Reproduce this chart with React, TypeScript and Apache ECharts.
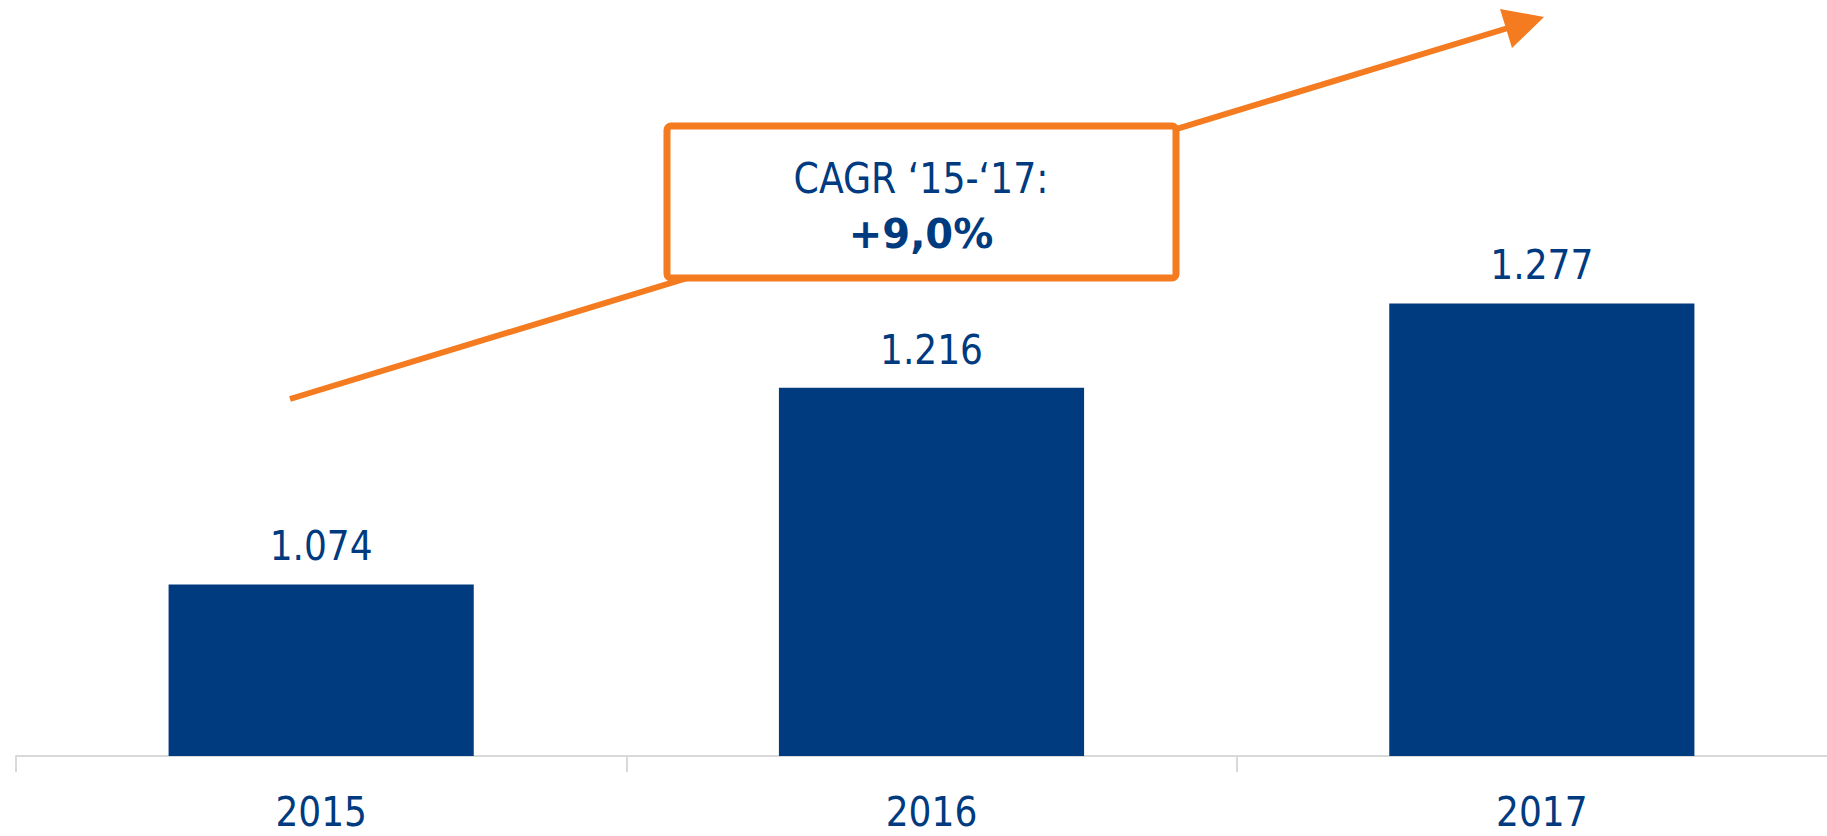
import React, { useEffect, useRef } from "react";
import * as echarts from "echarts";

const categories = ["2015", "2016", "2017"];
const revenue = [1074, 1216, 1277];
const cagrTitle = "CAGR ‘15-‘17:";
const cagrValue = "+9,0%";

const BLUE = "#003A7F";
const ORANGE = "#F47B20";
const FONT = "'DejaVu Sans Condensed', 'DejaVu Sans', sans-serif";

function fmt(v: number): string {
  const s = String(Math.round(v));
  return s.replace(/\B(?=(\d{3})+(?!\d))/g, ".");
}

export default function App() {
  const ref = useRef<HTMLDivElement>(null);
  useEffect(() => {
    if (!ref.current) return;
    const chart = echarts.init(ref.current, null, { renderer: "svg" });
    chart.setOption({
      animation: false,
      backgroundColor: "#ffffff",
      grid: {
        left: 16,
        width: 1831,
        top: 64,
        height: 692,
        containLabel: false,
        outerBoundsMode: "none",
      },
      xAxis: {
        type: "category",
        data: categories,
        boundaryGap: true,
        axisLine: { show: true, lineStyle: { color: "#D9D9D9", width: 2 } },
        axisTick: { show: true, length: 16, lineStyle: { color: "#D9D9D9", width: 2 } },
        axisLabel: {
          color: BLUE,
          fontSize: 40,
          lineHeight: 34,
          fontFamily: FONT,
          margin: 39,
        },
      },
      yAxis: {
        type: "value",
        min: 950,
        max: 1450,
        show: false,
        splitLine: { show: false },
      },
      series: [
        {
          type: "bar",
          data: revenue,
          barWidth: "50%",
          itemStyle: { color: BLUE },
          label: {
            show: true,
            position: "top",
            distance: 18,
            color: BLUE,
            fontSize: 40,
            fontFamily: FONT,
            formatter: (p: any) => fmt(p.value),
          },
        },
      ],
      graphic: [
        {
          type: "line",
          z: 10,
          shape: { x1: 290, y1: 399, x2: 1508, y2: 28 },
          style: { stroke: ORANGE, lineWidth: 6 },
        },
        {
          type: "polygon",
          z: 11,
          shape: { points: [[1500, 9], [1544, 17], [1512, 48]] },
          style: { fill: ORANGE },
        },
        {
          type: "rect",
          z: 12,
          shape: { x: 667, y: 126, width: 509, height: 152, r: 4 },
          style: { fill: "#ffffff", stroke: ORANGE, lineWidth: 7 },
        },
        {
          type: "text",
          z: 13,
          x: 921,
          y: 179,
          scaleX: 0.96,
          style: {
            text: cagrTitle,
            fill: BLUE,
            font: `42px ${FONT}`,
            align: "center",
            verticalAlign: "middle",
          },
        },
        {
          type: "text",
          z: 13,
          x: 921,
          y: 234,
          style: {
            text: cagrValue,
            fill: BLUE,
            font: `bold 40px 'DejaVu Sans', sans-serif`,
            align: "center",
            verticalAlign: "middle",
          },
        },
      ],
    });
    return () => chart.dispose();
  }, []);
  return (
    <div
      ref={ref}
      style={{ position: "fixed", left: 0, top: 0, width: 1827, height: 836 }}
    />
  );
}
